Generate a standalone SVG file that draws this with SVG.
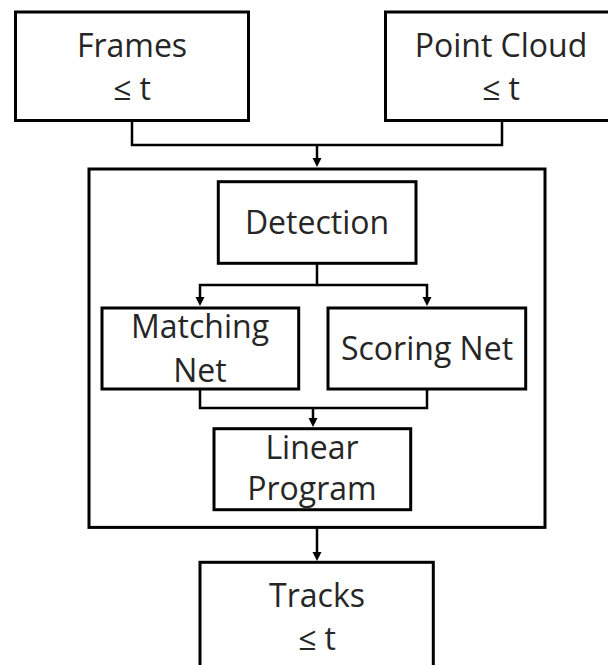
<svg xmlns="http://www.w3.org/2000/svg" width="608" height="665" viewBox="0 0 608 665">
<style>
.box{fill:#fff;stroke:#000;stroke-width:3}
.outer{fill:none;stroke:#000;stroke-width:3}
.con{fill:none;stroke:#000;stroke-width:2.5}
text{font-family:"Open Sans","Liberation Sans",sans-serif;font-size:32px;fill:#262626;text-anchor:middle}
</style>
<defs>
<marker id="ah" markerUnits="userSpaceOnUse" markerWidth="10" markerHeight="10" refX="0" refY="5" orient="auto">
<path d="M0,0.5 L9,5 L0,9.5 z" fill="#000"/>
</marker>
</defs>
<rect width="608" height="665" fill="#fff"/>
<g id="outer-box"><rect class="outer" x="89" y="169" width="456" height="358.4"/></g>
<g id="frames"><rect class="box" x="15.5" y="12" width="233" height="108.5"/><text x="132" y="57">Frames</text><text x="132" y="100">≤ t</text></g>
<g id="point-cloud"><rect class="box" x="385.5" y="12" width="233" height="108.5"/><text x="501" y="57">Point Cloud</text><text x="501" y="100">≤ t</text></g>
<g id="detection"><rect class="box" x="218.3" y="181.7" width="197.7" height="81.6"/><text x="317" y="234">Detection</text></g>
<g id="matching-net"><rect class="box" x="102" y="308" width="196.7" height="81"/><text x="200" y="338">Matching</text><text x="200" y="382">Net</text></g>
<g id="scoring-net"><rect class="box" x="328" y="308" width="197.7" height="81"/><text x="427" y="360">Scoring Net</text></g>
<g id="linear-program"><rect class="box" x="214" y="428.7" width="196.7" height="81"/><text x="312" y="459">Linear</text><text x="312" y="500">Program</text></g>
<g id="tracks"><rect class="box" x="200" y="562.3" width="233.3" height="130"/><text x="317" y="607">Tracks</text><text x="317" y="650">≤ t</text></g>
<g id="connectors">
<path class="con" d="M132,120.5 V145 H502 V120.5"/>
<path class="con" d="M317,145 V158" marker-end="url(#ah)"/>
<path class="con" d="M317,263.3 V285 H200 V297" marker-end="url(#ah)"/>
<path class="con" d="M317,285 H427 V297" marker-end="url(#ah)"/>
<path class="con" d="M200,389 V408 H427 V389"/>
<path class="con" d="M313,408 V418" marker-end="url(#ah)"/>
<path class="con" d="M317,527 V552" marker-end="url(#ah)"/>
</g>
</svg>
